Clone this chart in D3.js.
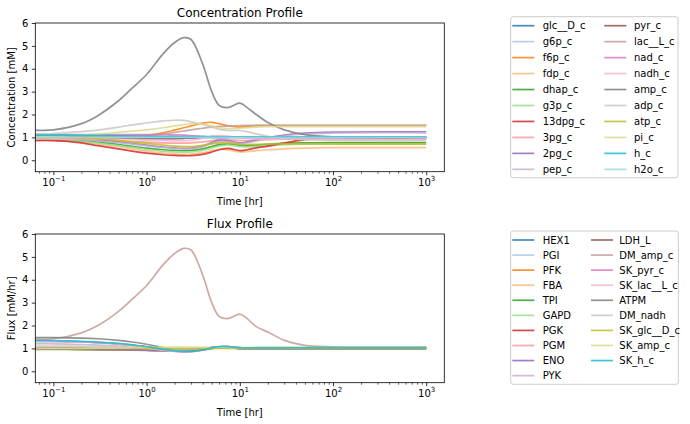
<!DOCTYPE html>
<html><head><meta charset="utf-8">
<script src="https://cdn.jsdelivr.net/npm/d3@7"></script>
<style>
body{margin:0;background:#fff;}
svg{display:block;font-family:"DejaVu Sans",sans-serif;}
</style></head>
<body><svg id="c" width="690" height="424"></svg>
<script>
// ---- data ----
const times = [0.064, 0.1, 0.2, 0.3, 0.5, 0.7, 1, 1.5, 2, 2.5, 3, 4, 5, 6, 7.5, 10, 12, 15, 20, 30, 50, 100, 1000];

const concLabels = ["glc__D_c","g6p_c","f6p_c","fdp_c","dhap_c","g3p_c","13dpg_c","3pg_c","2pg_c","pep_c",
                    "pyr_c","lac__L_c","nad_c","nadh_c","amp_c","adp_c","atp_c","pi_c","h_c","h2o_c"];
const concValues = [
  [1.08,1.08,1.07,1.06,1.05,1.04,1.03,1.02,1.02,1.01,1.01,1.0,1.0,1.0,1.0,1.0,1.0,1.0,1.0,1.0,1.0,1.0,1.0],
  [1.0,1.0,1.0,0.99,0.98,0.97,0.96,0.95,0.95,0.95,0.96,0.98,1.0,1.02,1.02,1.0,1.0,1.0,1.0,1.0,1.0,1.0,1.0],
  [1.05,1.05,1.05,1.05,1.06,1.08,1.1,1.2,1.32,1.42,1.5,1.62,1.66,1.6,1.5,1.45,1.48,1.51,1.52,1.52,1.52,1.52,1.52],
  [0.88,0.87,0.8,0.72,0.6,0.5,0.4,0.31,0.27,0.26,0.27,0.33,0.42,0.48,0.45,0.36,0.38,0.42,0.46,0.5,0.53,0.55,0.55],
  [0.93,0.92,0.86,0.79,0.69,0.61,0.53,0.46,0.43,0.42,0.43,0.5,0.6,0.68,0.72,0.65,0.63,0.66,0.7,0.74,0.76,0.77,0.77],
  [0.9,0.89,0.83,0.75,0.64,0.56,0.47,0.39,0.36,0.35,0.36,0.43,0.53,0.62,0.66,0.6,0.58,0.61,0.65,0.68,0.7,0.7,0.7],
  [0.86,0.86,0.76,0.64,0.5,0.4,0.31,0.24,0.21,0.2,0.2,0.26,0.36,0.46,0.52,0.42,0.46,0.54,0.62,0.75,0.9,0.98,1.0],
  [0.95,0.95,0.92,0.89,0.85,0.82,0.79,0.76,0.75,0.75,0.76,0.8,0.86,0.9,0.9,0.86,0.86,0.88,0.9,0.92,0.93,0.93,0.93],
  [0.98,0.97,0.92,0.87,0.8,0.73,0.66,0.58,0.54,0.52,0.53,0.62,0.78,0.87,0.85,0.76,0.8,0.88,0.98,1.1,1.19,1.23,1.24],
  [0.96,0.95,0.9,0.85,0.77,0.7,0.63,0.55,0.51,0.49,0.5,0.58,0.73,0.82,0.8,0.72,0.76,0.84,0.94,1.06,1.15,1.19,1.2],
  [1.0,1.0,0.99,0.98,0.97,0.96,0.95,0.95,0.95,0.96,0.97,1.0,1.03,1.04,1.03,1.01,1.0,1.0,1.0,1.0,1.0,1.0,1.0],
  [1.0,1.0,1.0,1.0,1.02,1.04,1.07,1.15,1.22,1.28,1.33,1.4,1.45,1.48,1.5,1.52,1.53,1.53,1.53,1.53,1.53,1.53,1.53],
  [1.12,1.12,1.12,1.12,1.12,1.12,1.12,1.12,1.11,1.1,1.08,1.04,1.0,0.98,1.0,1.02,1.0,0.98,0.96,0.95,0.95,0.95,0.95],
  [0.95,0.95,0.94,0.93,0.92,0.9,0.88,0.86,0.85,0.85,0.87,0.95,1.05,1.08,1.02,0.98,0.95,0.93,0.92,0.92,0.92,0.92,0.92],
  [1.32,1.33,1.6,1.95,2.6,3.15,3.75,4.65,5.15,5.36,5.28,4.2,3.0,2.4,2.3,2.5,2.3,2.0,1.65,1.33,1.12,1.02,1.0],
  [1.15,1.17,1.25,1.32,1.45,1.55,1.63,1.72,1.75,1.74,1.68,1.57,1.45,1.36,1.3,1.3,1.25,1.15,1.05,0.95,0.9,0.88,0.87],
  [1.0,1.0,0.97,0.93,0.86,0.8,0.74,0.66,0.62,0.6,0.6,0.65,0.72,0.76,0.75,0.7,0.69,0.7,0.71,0.72,0.72,0.72,0.72],
  [1.05,1.06,1.1,1.15,1.22,1.27,1.33,1.42,1.5,1.56,1.6,1.58,1.5,1.42,1.38,1.4,1.42,1.45,1.47,1.47,1.47,1.47,1.47],
  [1.1,1.1,1.09,1.08,1.07,1.06,1.05,1.04,1.04,1.03,1.03,1.03,1.03,1.02,1.02,1.02,1.02,1.02,1.02,1.02,1.02,1.02,1.02],
  [1.0,1.0,1.0,1.0,1.0,1.0,1.0,1.0,1.0,1.0,1.0,1.0,1.0,1.0,1.0,1.0,1.0,1.0,1.0,1.0,1.0,1.0,1.0]
];

const fluxLabels = ["HEX1","PGI","PFK","FBA","TPI","GAPD","PGK","PGM","ENO","PYK",
                    "LDH_L","DM_amp_c","SK_pyr_c","SK_lac__L_c","ATPM","DM_nadh","SK_glc__D_c","SK_amp_c","SK_h_c"];
const fluxValues = [
  [1.0,1.0,1.0,0.99,0.98,0.97,0.96,0.95,0.95,0.96,0.97,0.99,1.01,1.02,1.02,1.0,1.0,1.0,1.0,1.0,1.0,1.0,1.0],
  [1.0,1.0,0.99,0.98,0.97,0.96,0.95,0.94,0.94,0.95,0.96,0.99,1.02,1.03,1.02,1.0,1.0,1.0,1.0,1.0,1.0,1.0,1.0],
  [0.97,0.97,0.96,0.95,0.94,0.93,0.92,0.91,0.91,0.92,0.94,0.98,1.03,1.05,1.03,1.0,1.0,1.0,1.0,1.0,1.0,1.0,1.0],
  [0.97,0.97,0.96,0.95,0.94,0.93,0.92,0.91,0.91,0.92,0.94,0.98,1.03,1.05,1.03,1.0,1.0,1.0,1.0,1.0,1.0,1.0,1.0],
  [0.96,0.96,0.95,0.94,0.93,0.92,0.91,0.9,0.9,0.91,0.93,0.98,1.03,1.05,1.03,1.0,1.0,1.0,1.0,1.0,1.0,1.0,1.0],
  [1.0,1.0,0.99,0.98,0.97,0.96,0.94,0.92,0.91,0.91,0.92,0.97,1.03,1.06,1.04,1.0,1.0,1.0,1.0,1.0,1.0,1.0,1.0],
  [1.0,1.0,0.99,0.98,0.97,0.96,0.94,0.92,0.91,0.91,0.92,0.97,1.03,1.06,1.04,1.0,1.0,1.0,1.0,1.0,1.0,1.0,1.0],
  [0.98,0.98,0.97,0.96,0.95,0.94,0.92,0.9,0.89,0.89,0.9,0.96,1.03,1.06,1.04,1.0,1.0,1.0,1.0,1.0,1.0,1.0,1.0],
  [0.98,0.98,0.97,0.96,0.95,0.94,0.92,0.9,0.89,0.89,0.9,0.96,1.03,1.06,1.04,1.0,1.0,1.0,1.0,1.0,1.0,1.0,1.0],
  [1.2,1.2,1.17,1.14,1.1,1.05,1.0,0.92,0.87,0.85,0.86,0.92,1.0,1.05,1.06,1.02,1.01,1.01,1.01,1.01,1.01,1.01,1.01],
  [1.3,1.3,1.28,1.25,1.2,1.14,1.07,0.97,0.9,0.87,0.88,0.94,1.02,1.07,1.08,1.03,1.02,1.02,1.02,1.02,1.02,1.02,1.02],
  [1.4,1.42,1.68,2.0,2.62,3.15,3.75,4.65,5.15,5.37,5.3,4.2,3.0,2.4,2.3,2.5,2.3,1.95,1.72,1.35,1.13,1.07,1.06],
  [1.33,1.32,1.29,1.26,1.2,1.13,1.05,0.94,0.88,0.85,0.86,0.93,1.02,1.07,1.08,1.03,1.02,1.02,1.02,1.02,1.02,1.02,1.02],
  [1.31,1.3,1.28,1.25,1.19,1.12,1.04,0.93,0.87,0.84,0.85,0.92,1.01,1.07,1.08,1.03,1.02,1.02,1.02,1.02,1.02,1.02,1.02],
  [1.47,1.47,1.45,1.42,1.35,1.28,1.18,1.03,0.94,0.9,0.89,0.93,1.0,1.05,1.07,1.02,1.02,1.03,1.03,1.03,1.03,1.03,1.03],
  [1.1,1.1,1.09,1.07,1.05,1.02,1.0,0.97,0.95,0.95,0.96,0.99,1.02,1.04,1.04,1.02,1.02,1.02,1.02,1.02,1.02,1.02,1.02],
  [1.0,1.0,1.0,1.0,1.0,1.0,1.0,1.0,1.0,1.0,1.0,1.0,1.0,1.0,1.0,1.0,1.0,1.0,1.0,1.0,1.0,1.0,1.0],
  [1.0,1.0,1.0,1.01,1.02,1.03,1.04,1.05,1.06,1.06,1.06,1.05,1.04,1.04,1.04,1.03,1.03,1.03,1.03,1.03,1.03,1.03,1.03],
  [1.35,1.34,1.31,1.27,1.22,1.15,1.07,0.96,0.89,0.86,0.87,0.93,1.02,1.08,1.08,1.02,1.02,1.02,1.02,1.02,1.02,1.02,1.02]
];

const yTicks = [0,1,2,3,4,5,6];
const xMajorTicks = [0.1, 1, 10, 100, 1000];
const xTickExponents = ["\u22121","0","1","2","3"];

// ---- drawing ----
const palette = ["#1f77b4","#aec7e8","#ff7f0e","#ffbb78","#2ca02c","#98df8a","#d62728","#ff9896","#9467bd","#c5b0d5",
                 "#8c564b","#c49c94","#e377c2","#f7b6d2","#7f7f7f","#c7c7c7","#bcbd22","#dbdb8d","#17becf","#9edae5"];
const svg = d3.select("#c");
const FONT = "DejaVu Sans, sans-serif";

const x = d3.scaleLog().domain([Math.pow(10,-1.194), Math.pow(10,3.194)]).range([35.3, 444.3]);
const minorTicks = [];
for (let e = -2; e <= 3; e++) for (let k = 2; k <= 9; k++) {
  const v = k*Math.pow(10,e);
  if (v >= x.domain()[0] && v <= x.domain()[1]) minorTicks.push(v);
}

const panels = [
  {title:"Concentration Profile", ylabel:"Concentration [mM]", top:23, bottom:171.7,
   labels:concLabels, values:concValues,
   leg:{x:510.7, y:16.7, w:167.3, h:161, row0:25.7, dy:15.96, h2:604.3, t2:634}},
  {title:"Flux Profile", ylabel:"Flux [mM/hr]", top:234, bottom:382.7,
   labels:fluxLabels, values:fluxValues,
   leg:{x:510.7, y:231, w:167.6, h:153.3, row0:240, dy:15.07, h2:591, t2:619.3}}
];

panels.forEach(p => {
  const y = d3.scaleLinear().domain([-0.5, 6]).range([p.bottom, p.top]);
  const g = svg.append("g");
  const clipId = "clip" + Math.round(p.top);
  svg.append("clipPath").attr("id", clipId).append("rect")
    .attr("x", x.range()[0]).attr("y", p.top).attr("width", x.range()[1]-x.range()[0]).attr("height", p.bottom-p.top);

  // lines
  const line = d3.line().x(d => x(d[0])).y(d => y(d[1])).curve(d3.curveCatmullRom.alpha(0.5));
  const lg = g.append("g").attr("clip-path", `url(#${clipId})`);
  p.values.forEach((vals, i) => {
    lg.append("path").datum(times.map((t, j) => [t, vals[j]]))
      .attr("d", line).attr("fill", "none")
      .attr("stroke", palette[i]).attr("stroke-width", 1.7).attr("stroke-opacity", 0.85)
      .attr("stroke-linejoin", "round").attr("stroke-linecap", "butt");
  });

  // y axis
  const ya = g.append("g").attr("transform", `translate(${x.range()[0]},0)`)
    .call(d3.axisLeft(y).tickValues(yTicks).tickSize(3.5).tickPadding(3.5).tickFormat(d3.format("d")));
  ya.select(".domain").remove();
  ya.selectAll("line").attr("stroke", "#000").attr("stroke-width", 0.8);
  ya.selectAll("text").attr("font-family", FONT).attr("font-size", 10).attr("fill", "#000");

  // x axis minor
  const xm = g.append("g").attr("transform", `translate(0,${p.bottom})`)
    .call(d3.axisBottom(x).tickValues(minorTicks).tickSize(2).tickFormat(""));
  xm.select(".domain").remove();
  xm.selectAll("line").attr("stroke", "#000").attr("stroke-width", 0.6);
  // x axis major
  const xa = g.append("g").attr("transform", `translate(0,${p.bottom})`)
    .call(d3.axisBottom(x).tickValues(xMajorTicks).tickSize(3.5).tickFormat(""));
  xa.select(".domain").remove();
  xa.selectAll("line").attr("stroke", "#000").attr("stroke-width", 0.8);
  xa.selectAll(".tick").each(function(d, i) {
    const t = d3.select(this).append("text").attr("fill", "#000").attr("font-family", FONT)
      .attr("text-anchor", "middle").attr("y", 14).attr("font-size", 10);
    t.append("tspan").text("10");
    t.append("tspan").attr("font-size", 7).attr("dy", -4.2).text(xTickExponents[i]);
  });

  // spines
  g.append("rect").attr("x", x.range()[0]).attr("y", p.top)
    .attr("width", x.range()[1]-x.range()[0]).attr("height", p.bottom-p.top)
    .attr("fill", "none").attr("stroke", "#000").attr("stroke-width", 0.8);

  // title & labels
  g.append("text").attr("x", (x.range()[0]+x.range()[1])/2).attr("y", p.top - 6)
    .attr("text-anchor", "middle").attr("font-family", FONT).attr("font-size", 12).text(p.title);
  g.append("text").attr("x", (x.range()[0]+x.range()[1])/2).attr("y", p.bottom + 33.3)
    .attr("text-anchor", "middle").attr("font-family", FONT).attr("font-size", 10).text("Time [hr]");
  g.append("text").attr("transform", `translate(14.5,${(p.top+p.bottom)/2}) rotate(-90)`)
    .attr("text-anchor", "middle").attr("font-family", FONT).attr("font-size", 10).text(p.ylabel);

  // legend
  const L = p.leg;
  const leg = svg.append("g");
  leg.append("rect").attr("x", L.x).attr("y", L.y).attr("width", L.w).attr("height", L.h)
    .attr("rx", 2.5).attr("fill", "#fff").attr("fill-opacity", 0.8)
    .attr("stroke", "#cccccc").attr("stroke-width", 1);
  const nPerCol = Math.ceil(p.labels.length / 2);
  p.labels.forEach((lab, i) => {
    const col = i < nPerCol ? 0 : 1;
    const row = col === 0 ? i : i - nPerCol;
    const cy = L.row0 + row * L.dy;
    const hx = col === 0 ? 512.3 : L.h2;
    const tx = col === 0 ? 542.7 : L.t2;
    leg.append("line").attr("x1", hx).attr("x2", hx + 22).attr("y1", cy).attr("y2", cy)
      .attr("stroke", palette[i]).attr("stroke-width", 1.7).attr("stroke-opacity", 0.85);
    leg.append("text").attr("x", tx).attr("y", cy + 3.6).attr("font-family", FONT)
      .attr("font-size", 10).attr("fill", "#000").text(lab);
  });
});
</script></body></html>
